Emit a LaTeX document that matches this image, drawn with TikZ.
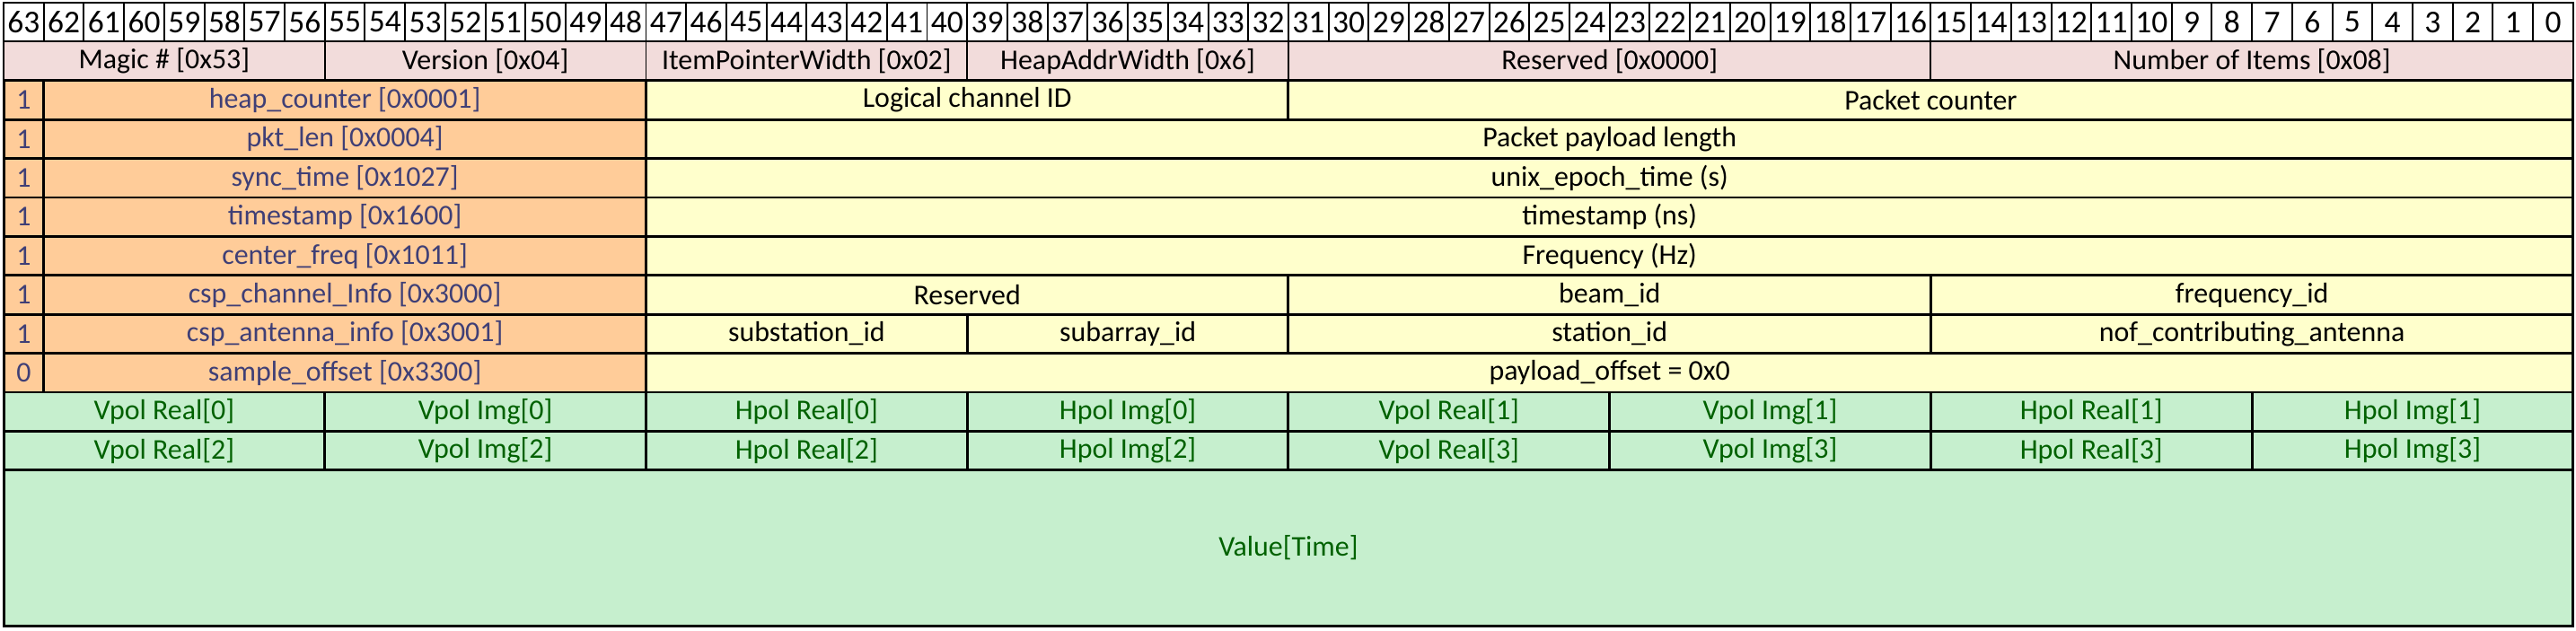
\documentclass[tikz,border=0pt]{standalone}
\usepackage{fontspec}
\setmainfont{Carlito}
\usepackage{tikz}
\usetikzlibrary{positioning}

\definecolor{hdrpink}{HTML}{F2DCDB}
\definecolor{itemorange}{HTML}{FFCC99}
\definecolor{itemtext}{HTML}{3F3F76}
\definecolor{notefill}{HTML}{FFFFCC}
\definecolor{datagreen}{HTML}{C6EFCE}
\definecolor{datatext}{HTML}{006100}

\begin{document}
\begin{tikzpicture}[
  x=0.399cm, y=-0.3872cm,
  cell/.style={draw, line width=0.75pt, inner sep=0pt, minimum height=0.3872cm,
               font=\fontsize{8.1}{9.7}\selectfont},
  bitcell/.style={cell, fill=white, line width=0.5pt, minimum width=0.399cm,
                  font=\fontsize{9}{10.8}\selectfont},
  hdr/.style={cell, fill=hdrpink, line width=0.5pt, minimum width=#1*0.399cm},
  item/.style={cell, fill=itemorange, text=itemtext, minimum width=#1*0.399cm},
  note/.style={cell, fill=notefill, minimum width=#1*0.399cm},
  sample/.style={cell, fill=datagreen, text=datatext, minimum width=#1*0.399cm}
]
\useasboundingbox (-0.09,-0.07) rectangle (64.07,16.13);

% === Bit numbers ===
\foreach \b in {0,...,63} {
  \node[bitcell] (bit\b) at ({63-\b+0.5},0.5) {\b};
}

% === Header ===
\node[hdr=8]  (magic)    at (4,1.5)  {Magic \# [0x53]};
\node[hdr=8]  (version)  at (12,1.5) {Version [0x04]};
\node[hdr=8]  (itemptr)  at (20,1.5) {ItemPointerWidth [0x02]};
\node[hdr=8]  (heapaddr) at (28,1.5) {HeapAddrWidth [0x6]};
\node[hdr=16] (reserved) at (40,1.5) {Reserved [0x0000]};
\node[hdr=16] (nitems)   at (56,1.5) {Number of Items [0x08]};

% === Item pointers ===
\foreach \r/\f/\txt in {2/1/{heap\_counter [0x0001]}, 3/1/{pkt\_len [0x0004]},
    4/1/{sync\_time [0x1027]}, 5/1/{timestamp [0x1600]},
    6/1/{center\_freq [0x1011]}, 7/1/{csp\_channel\_Info [0x3000]},
    8/1/{csp\_antenna\_info [0x3001]}, 9/0/{sample\_offset [0x3300]}} {
  \node[item=1]  (flag\r) at (0.5,\r+0.5) {\f};
  \node[item=15] (item\r) at (8.5,\r+0.5) {\txt};
}

% === Item values ===
\node[note=16] (chanid)  at (24,2.5) {Logical channel ID};
\node[note=32] (pktcnt)  at (48,2.5) {Packet counter};
\node[note=48] (paylen)  at (40,3.5) {Packet payload length};
\node[note=48] (epoch)   at (40,4.5) {unix\_epoch\_time (s)};
\node[note=48] (tsns)    at (40,5.5) {timestamp (ns)};
\node[note=48] (freq)    at (40,6.5) {Frequency (Hz)};
\node[note=16] (chres)   at (24,7.5) {Reserved};
\node[note=16] (beam)    at (40,7.5) {beam\_id};
\node[note=16] (freqid)  at (56,7.5) {frequency\_id};
\node[note=8]  (substn)  at (20,8.5) {substation\_id};
\node[note=8]  (subarr)  at (28,8.5) {subarray\_id};
\node[note=16] (station) at (40,8.5) {station\_id};
\node[note=16] (nofant)  at (56,8.5) {nof\_contributing\_antenna};
\node[note=48] (payoff)  at (40,9.5) {payload\_offset = 0x0};

% === Payload samples ===
\foreach \k/\lbl in {0/Vpol Real, 1/Vpol Img, 2/Hpol Real, 3/Hpol Img} {
  \foreach \s in {0,1} {
    \pgfmathtruncatemacro\c{4*\s+\k}
    \pgfmathtruncatemacro\ib{\s+2}
    \node[sample=8] (val\s\k)  at ({8*\c+4},10.5) {\lbl[\s]};
    \node[sample=8] (val\ib\k) at ({8*\c+4},11.5) {\lbl[\ib]};
  }
}
\node[sample=64, minimum height=4*0.3872cm] (valtime) at (32,14) {Value[Time]};

\end{tikzpicture}
\end{document}
